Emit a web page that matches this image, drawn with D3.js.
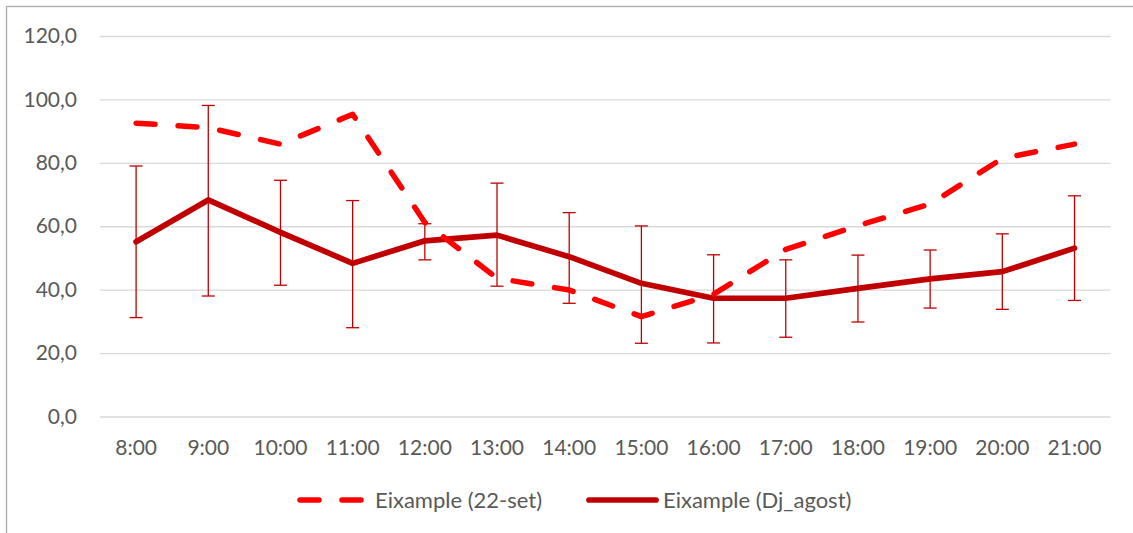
<!DOCTYPE html>
<html>
<head>
<meta charset="utf-8">
<script src="https://cdn.jsdelivr.net/npm/d3@7"></script>
<style>
  html, body { margin: 0; padding: 0; background: #ffffff; }
  svg { display: block; }
  text { font-family: Lato, "Open Sans", sans-serif; fill: #595959; }
</style>
</head>
<body>
<svg id="chart" width="1133" height="533"></svg>
<script>
// ---- data ----
const categories = ["8:00","9:00","10:00","11:00","12:00","13:00","14:00","15:00","16:00","17:00","18:00","19:00","20:00","21:00"];
const seriesSetNames = ["Eixample (22-set)", "Eixample (Dj_agost)"];
const valuesSet = [92.5, 91.1, 85.9, 95.3, 61.2, 43.6, 39.9, 31.5, 38.6, 52.7, 60.2, 67.0, 81.4, 85.9];
const valuesAgost = [55.1, 68.3, 58.1, 48.3, 55.4, 57.2, 50.4, 42.0, 37.3, 37.3, 40.4, 43.4, 45.7, 53.1];
const errUpperAgost = [79.0, 98.1, 74.5, 68.1, 60.8, 73.6, 64.3, 60.1, 51.0, 49.4, 50.9, 52.5, 57.6, 69.6];
const errLowerAgost = [31.2, 38.0, 41.4, 28.0, 49.4, 41.1, 35.7, 23.1, 23.2, 25.0, 29.8, 34.2, 33.8, 36.6];
const yTicks = [0, 20, 40, 60, 80, 100, 120];

// ---- layout ----
const plotLeft = 100, plotRight = 1110.6, plotTop = 36, plotBottom = 416.5;
const colSet = "#ff0000", colAgost = "#c00000";

const svg = d3.select("#chart");

// chart border
svg.append("rect")
  .attr("x", 6.5).attr("y", 6.5)
  .attr("width", 1200).attr("height", 600)
  .attr("fill", "none").attr("stroke", "#ababab").attr("stroke-width", 1.3);

const x = d3.scaleBand().domain(categories).range([plotLeft, plotRight]).padding(0);
const y = d3.scaleLinear().domain([0, 120]).range([plotBottom, plotTop]);
const cx = c => x(c) + x.bandwidth() / 2;

// y axis with gridlines
const yAxis = d3.axisLeft(y)
  .tickValues(yTicks)
  .tickSize(-(plotRight - plotLeft))
  .tickPadding(23)
  .tickFormat(d => d.toFixed(1).replace(".", ","));
const gy = svg.append("g").attr("transform", `translate(${plotLeft},0)`).call(yAxis);
gy.select(".domain").remove();
gy.selectAll(".tick line").attr("stroke", "#d9d9d9").attr("stroke-width", 1.3);
gy.selectAll(".tick text")
  .attr("font-family", "Lato, 'Open Sans', sans-serif")
  .attr("font-size", 21).attr("fill", "#595959");

// x axis
const xAxis = d3.axisBottom(x).tickSize(0).tickPadding(0);
const gx = svg.append("g").attr("transform", `translate(0,${plotBottom})`).call(xAxis);
gx.select(".domain").remove();
gx.selectAll(".tick text")
  .attr("y", 38.5).attr("dy", 0)
  .attr("font-family", "Lato, 'Open Sans', sans-serif")
  .attr("font-size", 21).attr("fill", "#595959");

// error bars (Dj_agost)
const eb = svg.append("g").attr("stroke", colAgost).attr("stroke-width", 1.3).attr("fill", "none");
categories.forEach((c, i) => {
  const px = cx(c);
  eb.append("line").attr("x1", px).attr("x2", px).attr("y1", y(errUpperAgost[i])).attr("y2", y(errLowerAgost[i]));
  eb.append("line").attr("x1", px - 6.5).attr("x2", px + 6.5).attr("y1", y(errUpperAgost[i])).attr("y2", y(errUpperAgost[i]));
  eb.append("line").attr("x1", px - 6.5).attr("x2", px + 6.5).attr("y1", y(errLowerAgost[i])).attr("y2", y(errLowerAgost[i]));
});

const line = d3.line().x((d, i) => cx(categories[i])).y(d => y(d));

// solid series
svg.append("path")
  .datum(valuesAgost)
  .attr("d", line)
  .attr("fill", "none").attr("stroke", colAgost)
  .attr("stroke-width", 5.7).attr("stroke-linejoin", "round").attr("stroke-linecap", "round");

// dashed series
svg.append("path")
  .datum(valuesSet)
  .attr("d", line)
  .attr("fill", "none").attr("stroke", colSet)
  .attr("stroke-width", 5.5).attr("stroke-dasharray", "19,23")
  .attr("stroke-linejoin", "round").attr("stroke-linecap", "round");

// legend
const legY = 500;
const leg = svg.append("g");
leg.append("line").attr("x1", 300).attr("x2", 361).attr("y1", legY).attr("y2", legY)
  .attr("stroke", colSet).attr("stroke-width", 5.5).attr("stroke-dasharray", "19,23").attr("stroke-linecap", "round");
leg.append("text").attr("x", 375).attr("y", 508).attr("font-size", 22).text(seriesSetNames[0]);
leg.append("line").attr("x1", 589).attr("x2", 656).attr("y1", legY).attr("y2", legY)
  .attr("stroke", colAgost).attr("stroke-width", 5.7).attr("stroke-linecap", "round");
leg.append("text").attr("x", 663).attr("y", 508).attr("font-size", 22).text(seriesSetNames[1]);
</script>
</body>
</html>
